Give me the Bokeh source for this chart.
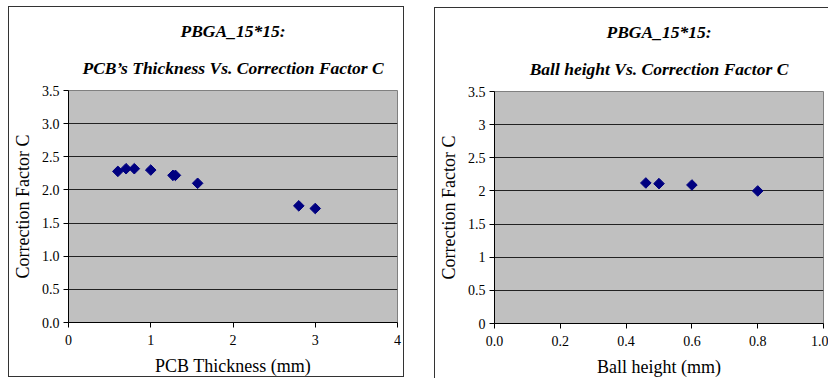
import math
from bokeh.plotting import figure
from bokeh.layouts import row
from bokeh.models import Title, FixedTicker, NumeralTickFormatter, CustomJSTickFormatter, Range1d
from bokeh.embed import file_html
from bokeh.resources import INLINE

# PCB thickness study (PBGA 15x15)
pcb_thickness = [0.6, 0.7, 0.8, 1.0, 1.27, 1.3, 1.57, 2.8, 3.0]
pcb_correction = [2.28, 2.32, 2.32, 2.30, 2.22, 2.22, 2.10, 1.76, 1.72]

# Ball height study (PBGA 15x15)
ball_height = [0.46, 0.5, 0.6, 0.8]
ball_correction = [2.12, 2.11, 2.09, 2.00]

y_ticks = [0, 0.5, 1, 1.5, 2, 2.5, 3, 3.5]
pcb_x_ticks = [0, 1, 2, 3, 4]
ball_x_ticks = [0, 0.2, 0.4, 0.6, 0.8, 1.0]

FONT = "Liberation Serif"


def make_panel(x, y, x_range, x_ticks, x_fmt, y_fmt, line1, line2, xlabel, width, margin, frame_style):
    p = figure(width=width, height=371, output_backend="svg", toolbar_location=None,
               x_range=Range1d(*x_range), y_range=Range1d(0, 3.5),
               min_border_left=59, min_border_right=8, min_border_bottom=55, min_border_top=10)
    p.margin = margin
    p.styles = frame_style
    p.background_fill_color = "#c0c0c0"
    p.border_fill_color = "white"
    p.outline_line_color = "#808080"
    p.outline_line_width = 1

    # two-line bold italic heading, plus a thin spacer line on top
    t2 = Title(text=line2, align="center", text_font=FONT, text_font_size="17.5px",
               text_font_style="bold italic", text_color="black", standoff=25)
    t1 = Title(text=line1, align="center", text_font=FONT, text_font_size="17.5px",
               text_font_style="bold italic", text_color="black", standoff=6)
    pad = Title(text=" ", text_font_size="6px", standoff=0)
    p.add_layout(t2, "above")
    p.add_layout(t1, "above")
    p.add_layout(pad, "above")

    p.xgrid.visible = False
    p.ygrid.grid_line_color = "#222222"
    p.ygrid.grid_line_width = 1

    for ax in (p.xaxis[0], p.yaxis[0]):
        ax.axis_line_color = "black"
        ax.major_tick_line_color = "black"
        ax.major_tick_in = 0
        ax.major_tick_out = 5
        ax.minor_tick_line_color = None
        ax.major_label_text_font = FONT
        ax.major_label_text_font_size = "14px"
        ax.major_label_text_color = "black"
        ax.axis_label_text_font = FONT
        ax.axis_label_text_font_size = "18px"
        ax.axis_label_text_font_style = "normal"
        ax.axis_label_text_color = "black"

    p.xaxis.ticker = FixedTicker(ticks=x_ticks)
    p.yaxis.ticker = FixedTicker(ticks=y_ticks)
    p.xaxis.formatter = x_fmt
    p.yaxis.formatter = y_fmt
    p.xaxis.axis_label = xlabel
    p.yaxis.axis_label = "Correction Factor C"
    p.xaxis.major_label_standoff = 7
    p.yaxis.major_label_standoff = 4
    p.xaxis.axis_label_standoff = 8
    p.yaxis.axis_label_standoff = 6

    p.scatter(x, y, marker="square", angle=math.pi / 4, size=7.5,
              fill_color="#000080", line_color="#000080")
    return p


left = make_panel(pcb_thickness, pcb_correction, (0, 4), pcb_x_ticks,
                  NumeralTickFormatter(format="0"), NumeralTickFormatter(format="0.0"),
                  "PBGA_15*15:", "PCB\u2019s Thickness Vs. Correction Factor C",
                  "PCB Thickness (mm)", 396, (6, 0, 0, 8),
                  {"border": "1px solid #333333"})

right = make_panel(ball_height, ball_correction, (0, 1.0), ball_x_ticks,
                   NumeralTickFormatter(format="0.0"),
                   CustomJSTickFormatter(code="return String(tick);"),
                   "PBGA_15*15:", "Ball height Vs. Correction Factor C",
                   "Ball height (mm)", 394, (7, 0, 0, 30),
                   {"border-left": "1px solid #333333", "border-top": "1px solid #333333"})
right.min_border_right = 6

layout = row(left, right)
open("out.html", "w").write(file_html(layout, INLINE))
